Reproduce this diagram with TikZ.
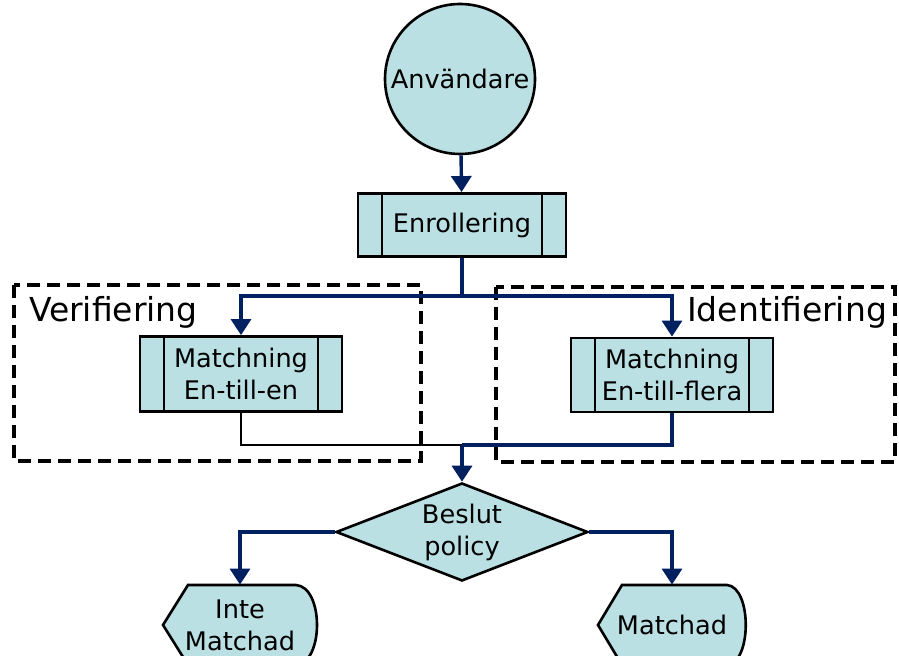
\documentclass[tikz,border=0pt]{standalone}
\usepackage{fontspec}
\setmainfont{DejaVu Sans}
\usetikzlibrary{arrows.meta,shapes.geometric,positioning}

\definecolor{boxfill}{RGB}{187,224,227}
\definecolor{flowline}{RGB}{0,32,96}

\tikzset{
	flow/.style={draw=flowline,line width=1.7pt},
	link/.style={draw=black,line width=1.2pt},
	arrow/.style={-{Triangle[width=10pt,length=8pt]}},
	group/.style={draw,line width=1.6pt,dash pattern=on 6.5pt off 3.5pt},
	grouplabel/.style={font=\fontsize{16.5}{19}\selectfont},
	boxtext/.style={font=\fontsize{12.8}{16}\selectfont,align=center},
	subproc/.style={boxtext,draw,line width=1.4pt,fill=boxfill,inner sep=0pt,
		path picture={
			\draw[line width=1.3pt] ([xshift=12pt]path picture bounding box.north west) -- ([xshift=12pt]path picture bounding box.south west);
			\draw[line width=1.3pt] ([xshift=-12pt]path picture bounding box.north east) -- ([xshift=-12pt]path picture bounding box.south east);
		}},
	outcome/.style={boxtext,minimum height=40pt,inner sep=0pt},
}

\begin{document}
\begin{tikzpicture}[x=0.5pt,y=-0.5pt]
	\useasboundingbox (0,0) rectangle (899,656);

	% groups
	\draw[group] (14,285) rectangle (421,461);
	\node[grouplabel,anchor=west] (verlabel) at (22,312) {Verifiering};
	\draw[group] (496,287) rectangle (895,462);
	\node[grouplabel,anchor=east] (idlabel) at (894,312) {Identifiering};

	% nodes
	\node[boxtext,circle,draw,line width=1.3pt,fill=boxfill,minimum size=75pt,inner sep=0pt] (user) at (460,79) {Användare};
	\node[subproc,minimum width=104pt,minimum height=31.5pt] (enrol) at (462,225) {Enrollering};
	\node[subproc,minimum width=101pt,minimum height=37.5pt] (vmatch) at (241,374) {Matchning\\En-till-en};
	\node[subproc,minimum width=101pt,minimum height=37pt] (imatch) at (672,375) {Matchning\\En-till-flera};
	\node[boxtext,diamond,draw,line width=1.3pt,fill=boxfill,inner sep=0pt,aspect=2.57,
		minimum width=126pt,minimum height=49pt] (decide) at (462,532) {Beslut\\policy};

	% outcomes
	\begin{scope}[shift={(240,625)}]
		\draw[line width=1.3pt,fill=boxfill] (-77,0) -- (-52,-40) -- (56,-40)
			.. controls (84,-38) and (84,38) .. (56,40) -- (-52,40) -- cycle;
	\end{scope}
	\node[outcome] (nomatch) at (240,625) {Inte\\Matchad};
	\begin{scope}[shift={(672,625)}]
		\draw[line width=1.3pt,fill=boxfill] (-74,0) -- (-50,-40) -- (55,-40)
			.. controls (80,-38) and (80,38) .. (55,40) -- (-50,40) -- cycle;
	\end{scope}
	\node[outcome] (match) at (672,625) {Matchad};

	% connectors
	\coordinate (split) at (462,296);
	\coordinate (join) at (462,445);
	\draw[flow,arrow] (user) -- (enrol);
	\draw[flow] (enrol) -- (split);
	\draw[flow,arrow] (split) -| (vmatch);
	\draw[flow,arrow] (split) -| (imatch);
	\draw[link] (vmatch) |- (join);
	\draw[flow] (imatch) |- (join);
	\draw[flow,arrow] (join) -- (decide);
	\draw[flow,arrow] (decide) -| (nomatch);
	\draw[flow,arrow] (decide) -| (match);
\end{tikzpicture}
\end{document}
